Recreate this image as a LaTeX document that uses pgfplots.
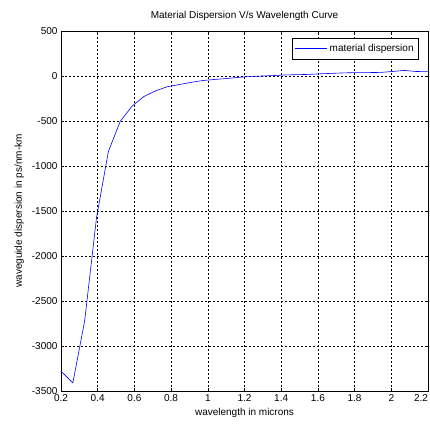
\documentclass[border=0pt]{standalone}
\usepackage{pgfplots}
\pgfplotsset{compat=1.18}
\usepackage{fontspec}
\setmainfont{Liberation Sans}
\begin{document}
\begin{tikzpicture}
\path[use as bounding box] (-61pt,-40pt) rectangle (369pt,391pt);
\begin{axis}[
  at={(0pt,0pt)}, anchor=south west,
  scale only axis,
  width=367pt, height=360pt,
  xmin=0.2, xmax=2.2, ymin=-3500, ymax=500,
  xtick={0.2,0.4,0.6,0.8,1,1.2,1.4,1.6,1.8,2,2.2},
  xticklabels={0.2,0.4,0.6,0.8,1,1.2,1.4,1.6,1.8,2,{2.2\hphantom{2.2}}},
  ytick={-3500,-3000,-2500,-2000,-1500,-1000,-500,0,500},
  yticklabels={-3500,-3000,-2500,-2000,-1500,-1000,-500,0,500},
  tick align=inside,
  major tick length=3pt,
  tick style={black, line width=0.5pt},
  axis line style={black, line width=0.9pt},
  grid=major,
  major grid style={black, line width=0.5pt, dash pattern=on 2pt off 2pt},
  tick label style={font=\fontsize{10}{11}\selectfont},
  label style={font=\fontsize{10}{11}\selectfont},
  title style={font=\fontsize{10}{11}\selectfont, yshift=1pt},
  title={Material Dispersion V/s Wavelength Curve},
  xlabel={wavelength in microns},
  ylabel={waveguide dispersion in ps/nm-km},
  ylabel style={yshift=1pt},
  legend style={at={(0.9755,0.9805)}, anchor=north east, draw=black, line width=0.8pt,
    font=\fontsize{10}{11}\selectfont, inner xsep=3pt, inner ysep=4pt,
    nodes={inner sep=2pt}},
  legend image code/.code={\draw[#1] (0pt,0pt) -- (32pt,0pt);},
  legend cell align=left,
]
\addplot[blue, line width=0.6pt] coordinates {
(0.2,-3280) (0.2645,-3410) (0.329,-2720) (0.3935,-1575) (0.458,-840)
(0.5226,-505) (0.587,-335) (0.6516,-228) (0.716,-165) (0.781,-118)
(0.845,-95) (0.910,-70) (0.974,-50) (1.039,-38) (1.103,-28)
(1.168,-15) (1.232,-5) (1.297,0) (1.361,5) (1.426,12)
(1.490,15) (1.555,18) (1.619,25) (1.684,30) (1.748,35)
(1.813,38) (1.877,38) (1.942,40) (2.006,50) (2.071,62)
(2.135,50) (2.2,48)
};
\addlegendentry{material dispersion}
\end{axis}
\end{tikzpicture}
\end{document}
